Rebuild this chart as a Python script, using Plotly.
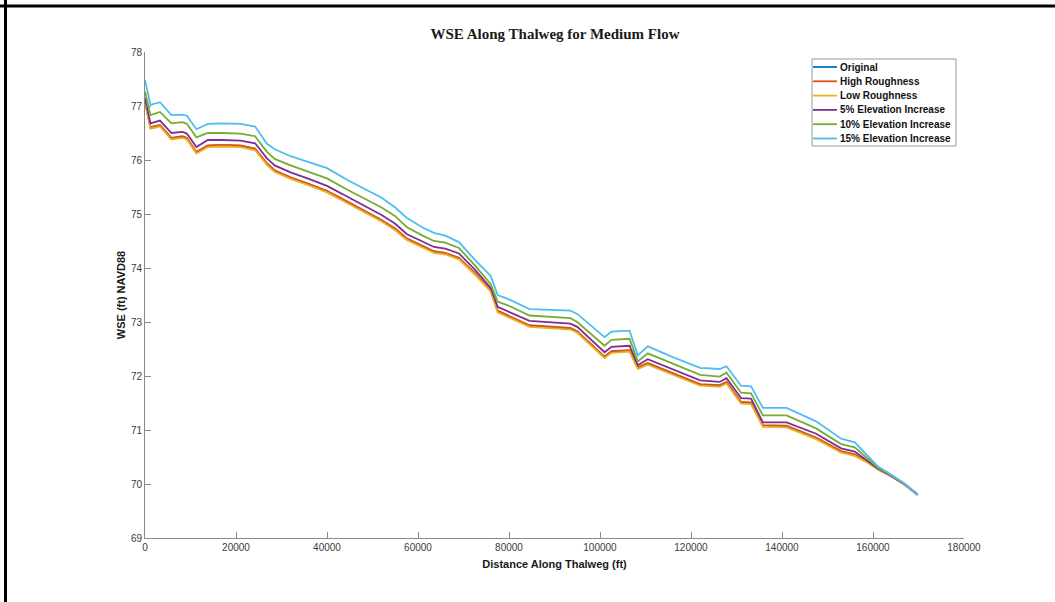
import plotly.graph_objects as go

# ---------------- data ----------------
distance_ft = [0, 1200, 3300, 5800, 8200, 9200, 11300, 13800, 17000, 21000, 24200,
               26800, 28500, 32000, 36000, 40000, 44500, 48000, 52000, 55000, 57500,
               61000, 63500, 66000, 69000, 72500, 76000, 77500, 80000, 84500, 93500,
               95000, 101000, 102500, 106500, 108300, 110500, 116000, 122000, 126300,
               127800, 131000, 133200, 135800, 141000, 147500, 153000, 156000, 158500,
               161000, 164000, 167000, 169800]

wse_original = [77.08, 76.60, 76.64, 76.40, 76.43, 76.40, 76.14, 76.26, 76.27, 76.26, 76.20,
                75.93, 75.80, 75.67, 75.55, 75.42, 75.22, 75.06, 74.88, 74.72, 74.54,
                74.40, 74.30, 74.27, 74.18, 73.90, 73.58, 73.20, 73.10, 72.93, 72.88,
                72.82, 72.35, 72.45, 72.47, 72.15, 72.23, 72.05, 71.84, 71.82,
                71.88, 71.51, 71.50, 71.08, 71.07, 70.85, 70.60, 70.54, 70.42,
                70.28, 70.15, 69.99, 69.80]

wse_high_roughness = [77.09, 76.61, 76.65, 76.41, 76.44, 76.41, 76.15, 76.27, 76.28, 76.27, 76.21,
                      75.94, 75.81, 75.68, 75.56, 75.43, 75.23, 75.07, 74.89, 74.73, 74.55,
                      74.41, 74.31, 74.28, 74.19, 73.91, 73.59, 73.21, 73.11, 72.94, 72.89,
                      72.83, 72.36, 72.46, 72.48, 72.16, 72.24, 72.06, 71.85, 71.83,
                      71.89, 71.52, 71.51, 71.09, 71.08, 70.86, 70.61, 70.55, 70.43,
                      70.29, 70.16, 70.00, 69.81]

wse_low_roughness = [77.06, 76.58, 76.62, 76.38, 76.41, 76.38, 76.12, 76.24, 76.25, 76.24, 76.18,
                     75.91, 75.78, 75.65, 75.53, 75.40, 75.20, 75.04, 74.86, 74.70, 74.52,
                     74.38, 74.28, 74.25, 74.16, 73.88, 73.56, 73.18, 73.08, 72.91, 72.86,
                     72.80, 72.33, 72.43, 72.45, 72.13, 72.21, 72.03, 71.82, 71.80,
                     71.86, 71.49, 71.48, 71.06, 71.05, 70.83, 70.58, 70.52, 70.41,
                     70.27, 70.14, 69.98, 69.80]

wse_elev_5 = [77.15, 76.68, 76.73, 76.50, 76.52, 76.49, 76.24, 76.37, 76.37, 76.36, 76.31,
              76.03, 75.90, 75.77, 75.65, 75.52, 75.32, 75.16, 74.98, 74.82, 74.63,
              74.49, 74.39, 74.36, 74.27, 73.97, 73.63, 73.28, 73.19, 73.02, 72.97,
              72.91, 72.44, 72.54, 72.56, 72.20, 72.31, 72.13, 71.92, 71.89,
              71.96, 71.59, 71.58, 71.14, 71.14, 70.93, 70.66, 70.60, 70.45,
              70.29, 70.15, 69.99, 69.80]

wse_elev_10 = [77.27, 76.83, 76.89, 76.68, 76.70, 76.67, 76.42, 76.50, 76.50, 76.49, 76.44,
               76.15, 76.02, 75.90, 75.78, 75.66, 75.45, 75.30, 75.12, 74.96, 74.76,
               74.60, 74.50, 74.47, 74.37, 74.05, 73.70, 73.38, 73.30, 73.12, 73.07,
               73.00, 72.56, 72.67, 72.69, 72.27, 72.42, 72.23, 72.02, 71.99,
               72.06, 71.69, 71.68, 71.27, 71.27, 71.03, 70.74, 70.68, 70.50,
               70.31, 70.16, 70.00, 69.80]

wse_elev_15 = [77.48, 77.02, 77.07, 76.83, 76.84, 76.82, 76.57, 76.67, 76.68, 76.67, 76.62,
               76.30, 76.20, 76.07, 75.96, 75.85, 75.63, 75.48, 75.30, 75.12, 74.93,
               74.75, 74.65, 74.60, 74.48, 74.15, 73.85, 73.50, 73.42, 73.24, 73.21,
               73.15, 72.72, 72.82, 72.84, 72.38, 72.55, 72.35, 72.15, 72.13,
               72.18, 71.82, 71.81, 71.41, 71.41, 71.16, 70.84, 70.77, 70.55,
               70.33, 70.17, 70.00, 69.80]

series_names = ["Original", "High Roughness", "Low Roughness",
                "5% Elevation Increase", "10% Elevation Increase", "15% Elevation Increase"]
series_values = [wse_original, wse_high_roughness, wse_low_roughness,
                 wse_elev_5, wse_elev_10, wse_elev_15]
series_colors = ["#0072BD", "#D95319", "#EDB120", "#7E2F8E", "#77AC30", "#4DBEEE"]

x_ticks = [0, 20000, 40000, 60000, 80000, 100000, 120000, 140000, 160000, 180000]
y_ticks = [69, 70, 71, 72, 73, 74, 75, 76, 77, 78]

# ---------------- layout geometry ----------------
W, H = 1055, 602
ML, MR, MT, MB = 145, 91, 52, 64
PW, PH = W - ML - MR, H - MT - MB


def px_x(px):
    return (px - ML) / PW


def px_y(py):
    return (H - MB - py) / PH


fig = go.Figure()
for name, vals, col in zip(series_names, series_values, series_colors):
    fig.add_trace(go.Scatter(x=distance_ft, y=vals, mode="lines", name=name,
                             line=dict(color=col, width=1.8), showlegend=False))

axis_col = "#8a8a8a"
sans = "Liberation Sans, Arial, sans-serif"
tick_font = dict(family=sans, size=10, color="#3c3c3c")
title_font = dict(family=sans, size=11, color="#1a1a1a")

fig.update_layout(
    width=W, height=H,
    margin=dict(l=ML, r=MR, t=MT, b=MB, autoexpand=False),
    paper_bgcolor="white", plot_bgcolor="white",
    title=dict(text="<b>WSE Along Thalweg for Medium Flow</b>",
               font=dict(family="Liberation Serif, Times New Roman, serif", size=15, color="#1a1a1a"),
               x=px_x(555), xref="paper", xanchor="center",
               y=1 - 34 / H, yref="container", yanchor="middle"),
    xaxis=dict(range=[0, 180000], tickvals=x_ticks, ticktext=[str(v) for v in x_ticks],
               ticks="inside", ticklen=6, tickcolor=axis_col, tickwidth=1,
               showline=True, linecolor=axis_col, linewidth=1, mirror=False,
               showgrid=False, zeroline=False, tickfont=tick_font,
               title=dict(text="<b>Distance Along Thalweg (ft)</b>", font=title_font, standoff=8)),
    yaxis=dict(range=[69, 78], tickvals=y_ticks, ticktext=[str(v) for v in y_ticks],
               ticks="inside", ticklen=6, tickcolor=axis_col, tickwidth=1,
               showline=True, linecolor=axis_col, linewidth=1, mirror=False,
               showgrid=False, zeroline=False, tickfont=tick_font,
               title=dict(text="<b>WSE (ft) NAVD88</b>", font=title_font, standoff=3)),
    showlegend=False,
)

# ---------------- compact legend box (matches the reference's tight rows) ----------------
LEG_L, LEG_R, LEG_T, LEG_B = 812, 956, 59, 146
ROW0, ROW_STEP = 67, 14.3
fig.add_shape(type="rect", xref="paper", yref="paper",
              x0=px_x(LEG_L), x1=px_x(LEG_R), y0=px_y(LEG_B), y1=px_y(LEG_T),
              line=dict(color="#9a9a9a", width=1), fillcolor="white", layer="above")
for i, (name, col) in enumerate(zip(series_names, series_colors)):
    yy = px_y(ROW0 + i * ROW_STEP)
    fig.add_shape(type="line", xref="paper", yref="paper",
                  x0=px_x(LEG_L + 1), x1=px_x(LEG_L + 25), y0=yy, y1=yy,
                  line=dict(color=col, width=1.8), layer="above")
    fig.add_annotation(xref="paper", yref="paper", x=px_x(LEG_L + 26), y=yy,
                       xanchor="left", yanchor="middle", showarrow=False,
                       text="<b>%s</b>" % name,
                       font=dict(family=sans, size=10, color="#111111"))

# black frame visible on the top and left edges of the reference image
fig.add_shape(type="line", xref="paper", yref="paper",
              x0=px_x(0), x1=px_x(W), y0=px_y(6), y1=px_y(6),
              line=dict(color="black", width=3))
fig.add_shape(type="line", xref="paper", yref="paper",
              x0=px_x(5.5), x1=px_x(5.5), y0=px_y(0), y1=px_y(H),
              line=dict(color="black", width=3))

fig.write_html("out.html", config={"displayModeBar": False})
